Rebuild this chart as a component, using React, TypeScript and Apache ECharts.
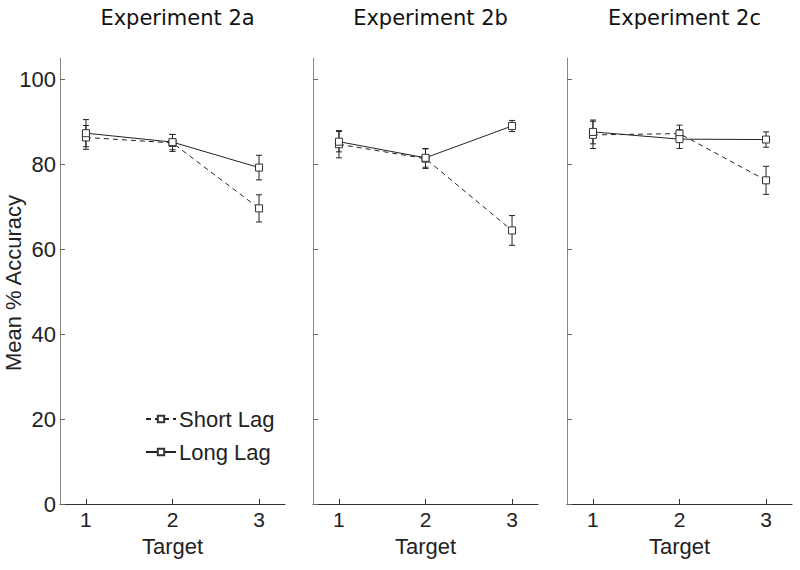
import React, { useEffect, useRef } from "react";
import * as echarts from "echarts";

const targets = [1, 2, 3];
const panelTitles = ["Experiment 2a", "Experiment 2b", "Experiment 2c"];
const yTicks = [0, 20, 40, 60, 80, 100];
const yAxisTitle = "Mean % Accuracy";

const shortA = [86.3, 85.0, 69.6];
const shortAErr = [2.8, 2.0, 3.2];
const longA = [87.3, 85.2, 79.2];
const longAErr = [3.2, 1.8, 2.9];

const shortB = [84.7, 81.3, 64.4];
const shortBErr = [3.2, 2.3, 3.5];
const longB = [85.3, 81.5, 89.0];
const longBErr = [2.4, 2.2, 1.3];

const shortC = [86.9, 87.2, 76.2];
const shortCErr = [3.2, 2.0, 3.3];
const longC = [87.6, 85.9, 85.8];
const longCErr = [2.8, 2.2, 1.8];

const panels = [
  { short: shortA, shortErr: shortAErr, long: longA, longErr: longAErr },
  { short: shortB, shortErr: shortBErr, long: longB, longErr: longBErr },
  { short: shortC, shortErr: shortCErr, long: longC, longErr: longCErr },
];

const FONT = "Liberation Sans";
const TITLE_FONT = "DejaVu Sans";
const lefts = [60, 313, 567];
const W = 225;
const TOP = 58;
const H = 446;

function errSeries(vals: number[], errs: number[], idx: number, name: string) {
  return {
    type: "custom",
    name: name + " err",
    xAxisIndex: idx,
    yAxisIndex: idx,
    z: 1,
    silent: true,
    data: targets.map((t, i) => [t, vals[i] - errs[i], vals[i] + errs[i]]),
    renderItem: (params: any, api: any) => {
      const x = api.value(0);
      const lo = api.coord([x, api.value(1)]);
      const hi = api.coord([x, api.value(2)]);
      const cap = 3;
      const style = { stroke: "#222", lineWidth: 1 };
      return {
        type: "group",
        children: [
          { type: "line", shape: { x1: lo[0], y1: lo[1], x2: hi[0], y2: hi[1] }, style },
          { type: "line", shape: { x1: lo[0] - cap, y1: lo[1], x2: lo[0] + cap, y2: lo[1] }, style },
          { type: "line", shape: { x1: hi[0] - cap, y1: hi[1], x2: hi[0] + cap, y2: hi[1] }, style },
        ],
      };
    },
  };
}

export default function App() {
  const ref = useRef<HTMLDivElement>(null);
  useEffect(() => {
    const chart = echarts.init(ref.current!, null, { renderer: "svg" });
    const grids = lefts.map((l) => ({
      left: l,
      top: TOP,
      width: W,
      height: H,
      containLabel: false,
      outerBoundsMode: "none",
    }));
    const xAxes = lefts.map((_, i) => ({
      type: "value",
      gridIndex: i,
      min: 0.7,
      max: 3.3,
      name: "Target",
      nameLocation: "middle",
      nameGap: 31,
      nameMoveOverlap: false,
      nameTextStyle: { fontFamily: FONT, fontSize: 22, color: "#222" },
      axisLine: { show: true, lineStyle: { color: "#333", width: 1 } },
      axisTick: { show: true, inside: true, length: 5, customValues: targets, lineStyle: { color: "#333" } },
      axisLabel: { customValues: targets, fontFamily: FONT, fontSize: 21, color: "#222", margin: 5 },
      splitLine: { show: false },
    }));
    const yAxes = lefts.map((_, i) => ({
      type: "value",
      gridIndex: i,
      min: 0,
      max: 105,
      axisLine: { show: true, lineStyle: { color: "#888", width: 1 } },
      axisTick: { show: true, inside: true, length: 5, customValues: yTicks, lineStyle: { color: "#666" } },
      axisLabel: { show: i === 0, customValues: yTicks, fontFamily: FONT, fontSize: 22, color: "#222", margin: 4 },
      splitLine: { show: false },
    }));
    const series: any[] = [];
    panels.forEach((p, i) => {
      series.push(errSeries(p.short, p.shortErr, i, "Short Lag"));
      series.push(errSeries(p.long, p.longErr, i, "Long Lag"));
      series.push({
        type: "line",
        name: "Short Lag",
        xAxisIndex: i,
        yAxisIndex: i,
        z: 2,
        data: targets.map((t, k) => [t, p.short[k]]),
        symbol: "rect",
        symbolSize: 7,
        showSymbol: true,
        lineStyle: { color: "#222", width: 1, type: [5, 4] },
        itemStyle: { color: "#fff", borderColor: "#333", borderWidth: 1 },
      });
      series.push({
        type: "line",
        name: "Long Lag",
        xAxisIndex: i,
        yAxisIndex: i,
        z: 2,
        data: targets.map((t, k) => [t, p.long[k]]),
        symbol: "rect",
        symbolSize: 7,
        showSymbol: true,
        lineStyle: { color: "#222", width: 1, type: "solid" },
        itemStyle: { color: "#fff", borderColor: "#333", borderWidth: 1 },
      });
    });
    chart.setOption({
      animation: false,
      backgroundColor: "#fff",
      title: panelTitles.map((t, i) => ({
        text: t,
        left: lefts[i] + W / 2,
        top: 2,
        textAlign: "center",
        textStyle: { fontFamily: TITLE_FONT, fontSize: 21, fontWeight: "normal", color: "#111" },
      })),
      graphic: [
        {
          type: "text",
          x: 13,
          y: TOP + H / 2 + 2,
          rotation: Math.PI / 2,
          style: {
            text: yAxisTitle,
            font: `22px "${FONT}"`,
            fill: "#222",
            textAlign: "center",
            textVerticalAlign: "middle",
          },
        },
      ],
      legend: {
        data: ["Short Lag", "Long Lag"],
        orient: "vertical",
        left: 140,
        top: 403,
        itemWidth: 30,
        itemHeight: 8,
        itemGap: 11,
        selectedMode: false,
        textStyle: { fontFamily: FONT, fontSize: 22, color: "#222", padding: [0, 0, 0, -2] },
      },
      grid: grids,
      xAxis: xAxes,
      yAxis: yAxes,
      series,
    });
    return () => chart.dispose();
  }, []);
  return <div ref={ref} style={{ width: 800, height: 570, position: "absolute", left: 0, top: 0 }} />;
}
